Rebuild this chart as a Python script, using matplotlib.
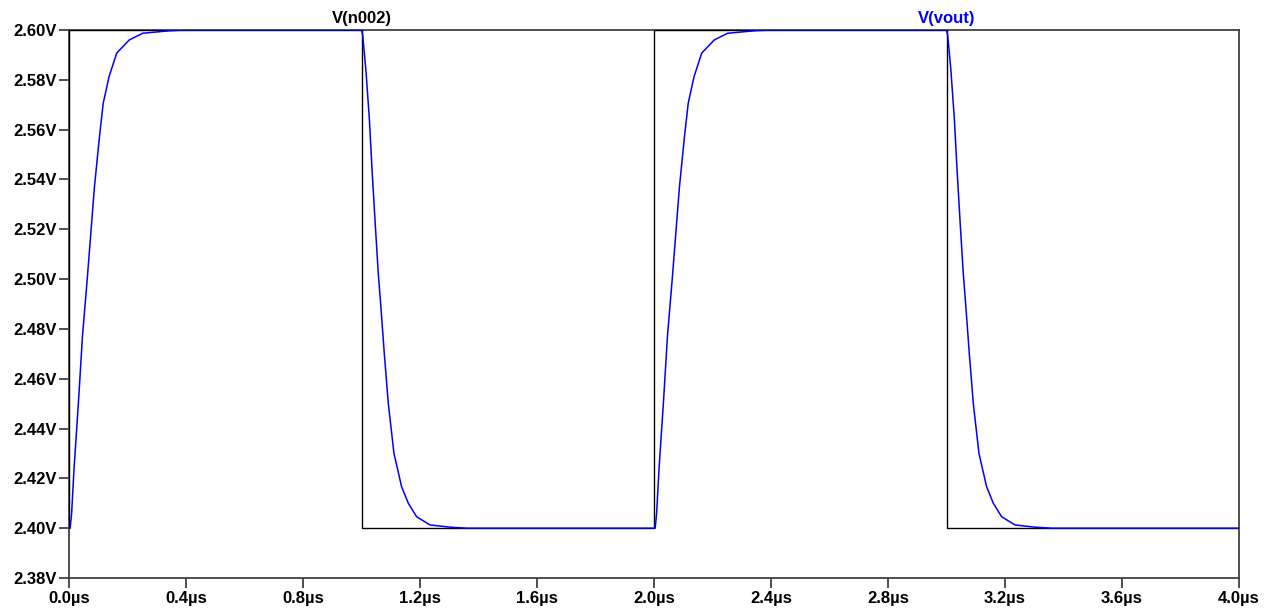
import numpy as np
import matplotlib
matplotlib.use('Agg')
import matplotlib.pyplot as plt
from matplotlib.ticker import FuncFormatter, MultipleLocator
import matplotlib.transforms as mtransforms

plt.rcParams['font.family'] = ['Liberation Sans', 'DejaVu Sans']

# ── data ───────────────────────────────────────────────────────────────────────
# V(n002): ideal square input (µs, V)
n002_t = [0.0, 0.0, 1.0, 1.0, 2.0, 2.0, 3.0, 3.0, 4.0]
n002_v = [2.40, 2.60, 2.60, 2.40, 2.40, 2.60, 2.60, 2.40, 2.40]

# V(vout): settling after a rising edge (time since edge in µs, V)
rise_dt = [0.000, 0.004, 0.009, 0.017, 0.032, 0.046, 0.063, 0.069, 0.087,
           0.104, 0.117, 0.137, 0.163, 0.206, 0.252, 0.345, 0.400]
rise_v  = [2.400, 2.400, 2.406, 2.4235, 2.450, 2.477, 2.501, 2.510, 2.537,
           2.557, 2.5706, 2.5813, 2.5907, 2.596, 2.5987, 2.5997, 2.600]

# V(vout): settling after a falling edge
fall_dt = [0.000, 0.004, 0.015, 0.027, 0.036, 0.046, 0.0575, 0.0655, 0.078,
           0.0917, 0.111, 0.137, 0.160, 0.1885, 0.234, 0.303, 0.360]
fall_v  = [2.600, 2.598, 2.584, 2.564, 2.544, 2.524, 2.502, 2.490, 2.470,
           2.450, 2.430, 2.4167, 2.410, 2.4046, 2.4013, 2.4004, 2.400]

# edge times of the input (µs) and direction
edges = [(0.0, 'rise'), (1.0, 'fall'), (2.0, 'rise'), (3.0, 'fall')]
t_end = 4.0

vout_t, vout_v = [], []
for t0, kind in edges:
    dt, v = (rise_dt, rise_v) if kind == 'rise' else (fall_dt, fall_v)
    vout_t += [t0 + d for d in dt]
    vout_v += list(v)
vout_t.append(t_end)
vout_v.append(vout_v[-1])

# ── plot ───────────────────────────────────────────────────────────────────────
fig = plt.figure(figsize=(12.68, 6.13), dpi=100)
ax = fig.add_axes([69 / 1268, 35 / 613, (1239 - 69) / 1268, (578 - 30) / 613])

ax.plot(n002_t, n002_v, color='black', linewidth=1.0, zorder=3)
ax.plot(vout_t, vout_v, color='#0000ff', linewidth=1.1, zorder=4)

ax.set_xlim(0, 4.0)
ax.set_ylim(2.38, 2.60)
ax.xaxis.set_major_locator(MultipleLocator(0.4))
ax.yaxis.set_major_locator(MultipleLocator(0.02))
ax.xaxis.set_major_formatter(FuncFormatter(lambda x, _: f'{x:.1f}\u00b5s'))
ax.yaxis.set_major_formatter(FuncFormatter(lambda y, _: f'{y:.2f}V'))

for s in ax.spines.values():
    s.set_color('#404040')
    s.set_linewidth(1.3)
ax.tick_params(axis='both', direction='out', length=7, width=1.3, color='#404040',
               labelsize=12, pad=2)
for lab in ax.get_xticklabels() + ax.get_yticklabels():
    lab.set_fontweight('bold')

# trace names above the plot
trans = mtransforms.blended_transform_factory(ax.transData, ax.transAxes)
ax.text(1.0, 1.008, 'V(n002)', transform=trans, ha='center', va='bottom',
        fontsize=12, fontweight='bold', color='black')
ax.text(3.0, 1.008, 'V(vout)', transform=trans, ha='center', va='bottom',
        fontsize=12, fontweight='bold', color='#0000ff')

fig.savefig('out.png', dpi=100)
